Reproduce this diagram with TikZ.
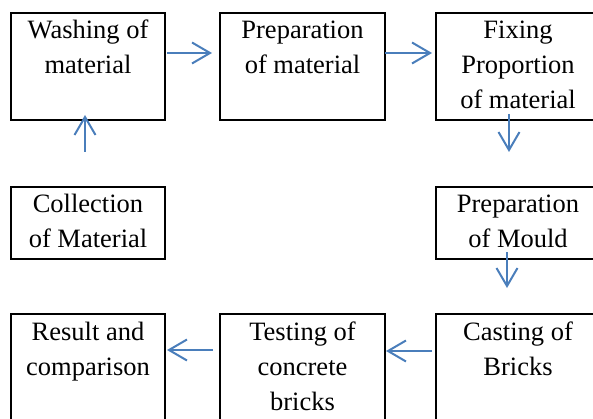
\documentclass[tikz,border=0pt]{standalone}
\usepackage{fontspec}
\setmainfont{Liberation Serif}
\usetikzlibrary{arrows.meta}
\definecolor{flowblue}{RGB}{74,126,187}
\begin{document}
\begin{tikzpicture}[x=1pt,y=-1pt,
  box/.style={draw=black,line width=1.6pt,rectangle,inner sep=0pt,outer sep=0pt},
  txt/.style={anchor=north,inner sep=0pt,align=center,font=\fontsize{26.5}{35}\selectfont},
  arr/.style={draw=flowblue,line width=2pt,-{Straight Barb[length=18pt,width=21pt]}}]
\useasboundingbox (0,0) rectangle (593,419);
\clip (0,0) rectangle (593,419);
% boxes
\node[box,minimum width=154pt,minimum height=107pt] (b1) at (88,66.5) {};
\node[box,minimum width=165pt,minimum height=107pt] (b2) at (302.5,66.5) {};
\node[box,minimum width=180pt,minimum height=107pt] (b3) at (526,66.5) {};
\node[box,minimum width=154pt,minimum height=72pt] (b4) at (88,223) {};
\node[box,minimum width=180pt,minimum height=72pt] (b5) at (526,223) {};
\node[box,minimum width=154pt,minimum height=126pt] (b6) at (88,377) {};
\node[box,minimum width=165pt,minimum height=126pt] (b7) at (302.5,377) {};
\node[box,minimum width=180pt,minimum height=126pt] (b8) at (526,377) {};
% texts
\node[txt] (t1) at ([yshift=-0.5pt]b1.north) {\strut Washing of\\material};
\node[txt] (t2) at ([yshift=-0.5pt]b2.north) {\strut Preparation\\of material};
\node[txt] (t3) at ([xshift=-8pt,yshift=-0.5pt]b3.north) {\strut Fixing\\Proportion\\of material};
\node[txt] (t4) at ([yshift=-1pt]b4.north) {\strut Collection\\of Material};
\node[txt] (t5) at ([xshift=-8pt,yshift=-1pt]b5.north) {\strut Preparation\\of Mould};
\node[txt] (t6) at ([yshift=-1.5pt]b6.north) {\strut Result and\\comparison};
\node[txt] (t7) at ([yshift=-1.5pt]b7.north) {\strut Testing of\\concrete\\bricks};
\node[txt] (t8) at ([xshift=-8pt,yshift=-1.5pt]b8.north) {\strut Casting of\\Bricks};
% arrows
\draw[arr] ([xshift=-3pt,yshift=35pt]b4.north) -- ([xshift=-3pt,yshift=5pt]b1.south);
\draw[arr] ([xshift=2pt,yshift=-40pt]b1.north east) -- ([xshift=-8pt,yshift=-40pt]b2.north west);
\draw[arr] ([xshift=0pt,yshift=-40pt]b2.north east) -- ([xshift=-4pt,yshift=-40pt]b3.north west);
\draw[arr] ([xshift=-17pt,yshift=6pt]b3.south) -- ([xshift=-17pt,yshift=35pt]b5.north);
\draw[arr] ([xshift=-19pt,yshift=7pt]b5.south) -- ([xshift=-19pt,yshift=26pt]b8.north);
\draw[arr] ([xshift=-4pt,yshift=-37pt]b8.north west) -- ([xshift=1pt,yshift=-37pt]b7.north east);
\draw[arr] ([xshift=-7pt,yshift=-36pt]b7.north west) -- ([xshift=2pt,yshift=-36pt]b6.north east);
\end{tikzpicture}
\end{document}
